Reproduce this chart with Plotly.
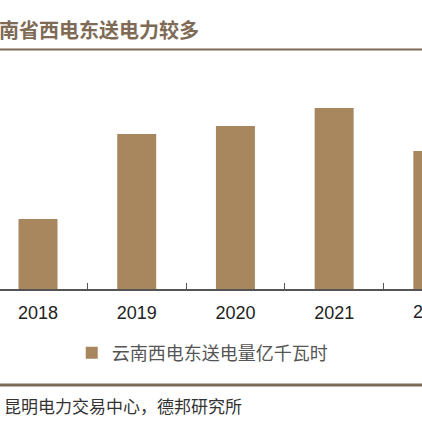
import plotly.graph_objects as go

## Data (亿千瓦时)

years = ['2018', '2019', '2020', '2021', '2022']
power = [1370, 1455, 1463, 1481, 1438]

series_name = '云南西电东送电量亿千瓦时'
title_text = '南省西电东送电力较多'
source_text = '昆明电力交易中心，德邦研究所'

bar_color = '#A8875F'
line_color = '#7B6A56'

x_range = [-0.385, 3.89]

fig = go.Figure()

fig.add_trace(go.Bar(x=years, y=power, name=series_name,
                     marker=dict(color=bar_color, line=dict(width=0)),
                     width=0.395, showlegend=True))

fig.update_layout(
    width=422, height=422,
    margin=dict(l=0, r=0, t=59, b=133),
    paper_bgcolor='white', plot_bgcolor='white',
    showlegend=True,
    legend=dict(orientation='h', x=0.17, y=-0.278, xanchor='left', yanchor='middle',
                font=dict(family='Noto Sans CJK SC', size=18, color='#555555'),
                itemwidth=30, bgcolor='rgba(0,0,0,0)'),
    bargap=0.6,
)

fig.update_xaxes(type='category', range=x_range,
                 showline=True, linecolor='#555555', linewidth=2,
                 ticks='inside', tickson='boundaries', ticklen=6, tickcolor='#555555',
                 tickfont=dict(family='Liberation Sans', size=18, color='#222222'),
                 ticklabelstandoff=6, showgrid=False)

fig.update_yaxes(range=[1300, 1530], visible=False, showgrid=False)

# last year's label sits past the right edge, plotly drops it, so put it back by hand
last_pos = (len(years) - 1 - x_range[0]) / (x_range[1] - x_range[0])
fig.add_annotation(text=years[-1], xref='paper', yref='paper', x=last_pos, y=(289 - 312) / 230,
                   xanchor='center', yanchor='middle', showarrow=False,
                   font=dict(family='Liberation Sans', size=18, color='#222222'))

## Title, rules and source (plot area is 230 px tall, bottom at 289 px)

fig.add_annotation(text='<b>' + title_text + '</b>', xref='paper', yref='paper',
                   x=-0.006, y=(289 - 29) / 230, xanchor='left', yanchor='middle',
                   showarrow=False, font=dict(family='Noto Sans CJK SC', size=20, color='#7E6A55'))

fig.add_shape(type='line', xref='paper', yref='paper', x0=0, x1=1,
              y0=(289 - 49.5) / 230, y1=(289 - 49.5) / 230,
              line=dict(color=line_color, width=2))

fig.add_shape(type='line', xref='paper', yref='paper', x0=0, x1=1,
              y0=(289 - 385) / 230, y1=(289 - 385) / 230,
              line=dict(color=line_color, width=3))

fig.add_annotation(text=source_text, xref='paper', yref='paper',
                   x=0.005, y=(289 - 405) / 230, xanchor='left', yanchor='middle',
                   showarrow=False, font=dict(family='Noto Sans CJK SC', size=17, color='#333333'))

# page body has a default 8px margin, drop it so the figure fills the window
fig.write_html("out.html", config={'displayModeBar': False},
               post_script="document.body.style.margin='0';")
